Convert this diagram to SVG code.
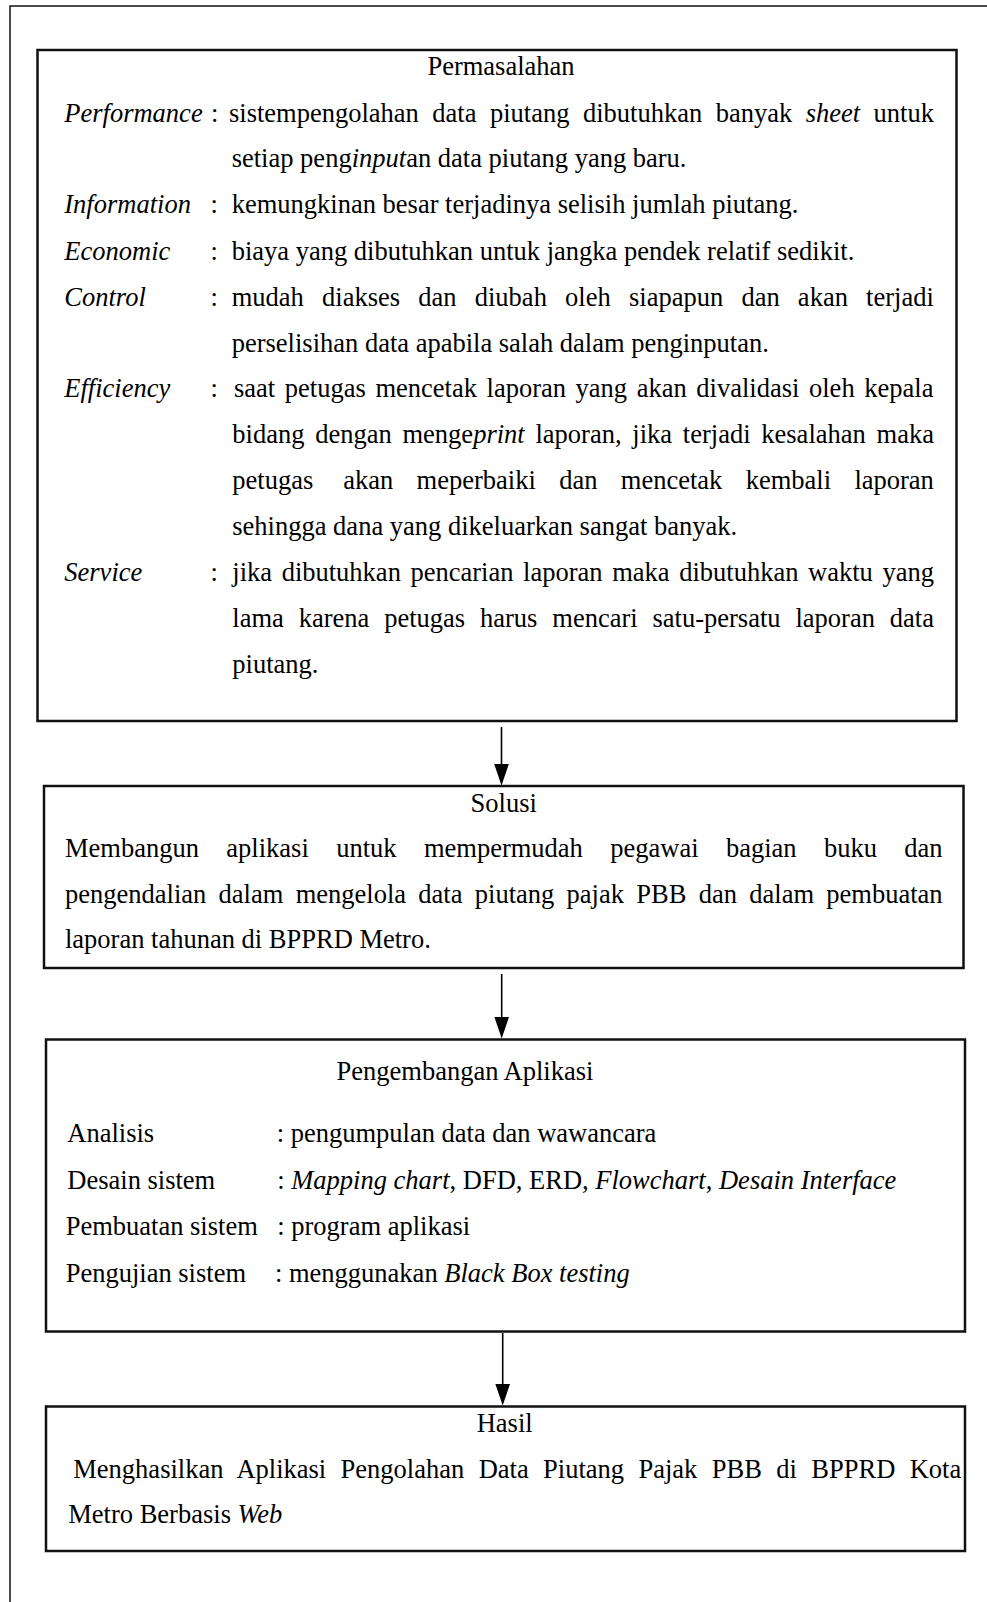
<svg xmlns="http://www.w3.org/2000/svg" width="987" height="1602" viewBox="0 0 987 1602">
<style>
text{font-family:"Liberation Serif","Times New Roman",serif;font-size:26.5px;fill:#000}
.i{font-style:italic}
.m{text-anchor:middle}
.box{fill:none;stroke:#111;stroke-width:2.5}
.frame{fill:none;stroke:#111;stroke-width:1.5}
.conn{stroke:#000;stroke-width:1.6;fill:none}
</style>
<defs>
<marker id="ah" viewBox="0 0 22 15" refX="18" refY="7.5" markerWidth="22" markerHeight="15" markerUnits="userSpaceOnUse" orient="auto">
<path d="M0,0 L22,7.5 L0,15 Z" fill="#000"/>
</marker>
</defs>
<rect width="987" height="1602" fill="#fff"/>
<path class="frame" d="M10,1602 L10,6 L987,6"/>

<g id="permasalahan">
<rect class="box" x="37.5" y="50" width="919" height="671"/>
<text class="m" x="501" y="75">Permasalahan</text>
<text class="i" x="64.3" y="121.7">Performance</text>
<text x="211" y="121.7">:</text>
<text x="229" y="121.7" style="word-spacing:6.85px">sistempengolahan data piutang dibutuhkan banyak <tspan class="i">sheet</tspan> untuk</text>
<text x="231.7" y="167.3">setiap peng<tspan class="i">input</tspan>an data piutang yang baru.</text>
<text class="i" x="64.3" y="213.3">Information</text>
<text x="210.5" y="213.3">:</text>
<text x="231.7" y="213.3">kemungkinan besar terjadinya selisih jumlah piutang.</text>
<text class="i" x="64.3" y="259.5">Economic</text>
<text x="210.5" y="259.5">:</text>
<text x="231.7" y="259.5">biaya yang dibutuhkan untuk jangka pendek relatif sedikit.</text>
<text class="i" x="64.3" y="305.5">Control</text>
<text x="210.5" y="305.5">:</text>
<text x="231.7" y="305.5" style="word-spacing:11.6px">mudah diakses dan diubah oleh siapapun dan akan terjadi</text>
<text x="231.7" y="351.5">perselisihan data apabila salah dalam penginputan.</text>
<text class="i" x="64.3" y="397.3">Efficiency</text>
<text x="210.5" y="397.3">:</text>
<text x="234" y="397.3" style="word-spacing:2.99px">saat petugas mencetak laporan yang akan divalidasi oleh kepala</text>
<text x="232.3" y="443.3" style="word-spacing:4.15px">bidang dengan menge<tspan class="i">print</tspan> laporan, jika terjadi kesalahan maka</text>
<text x="232.3" y="489" style="word-spacing:16.74px">petugas<tspan dx="6.6"> akan meperbaiki dan mencetak kembali laporan</tspan></text>
<text x="232.3" y="535">sehingga dana yang dikeluarkan sangat banyak.</text>
<text class="i" x="64.3" y="581.3">Service</text>
<text x="210.5" y="581.3">:</text>
<text x="232.3" y="581.3" style="word-spacing:2.99px">jika dibutuhkan pencarian laporan maka dibutuhkan waktu yang</text>
<text x="232.3" y="627.3" style="word-spacing:8.26px">lama karena petugas harus mencari satu-persatu laporan data</text>
<text x="232.3" y="673.3">piutang.</text>
</g>

<g id="solusi">
<rect class="box" x="44" y="786" width="919.5" height="182"/>
<text class="m" x="503.7" y="811.7">Solusi</text>
<text x="65" y="857.3" style="word-spacing:20.76px">Membangun aplikasi untuk mempermudah pegawai bagian buku dan</text>
<text x="65" y="903.3" style="word-spacing:5.69px">pengendalian dalam mengelola data piutang pajak PBB dan dalam pembuatan</text>
<text x="65" y="948.3">laporan tahunan di BPPRD Metro.</text>
</g>

<g id="pengembangan">
<rect class="box" x="46" y="1039.5" width="919" height="292"/>
<text class="m" x="465" y="1080">Pengembangan Aplikasi</text>
<text x="67.3" y="1141.7">Analisis</text>
<text x="276.7" y="1141.7">: pengumpulan data dan wawancara</text>
<text x="67.3" y="1189">Desain sistem</text>
<text x="277.3" y="1189">: <tspan class="i">Mapping chart</tspan>, DFD, ERD, <tspan class="i">Flowchart</tspan>, <tspan class="i">Desain Interface</tspan></text>
<text x="65.7" y="1235">Pembuatan sistem</text>
<text x="277.3" y="1235">: program aplikasi</text>
<text x="65.7" y="1281.7">Pengujian sistem</text>
<text x="275" y="1281.7">: menggunakan <tspan class="i">Black Box testing</tspan></text>
</g>

<g id="hasil">
<rect class="box" x="46" y="1406.5" width="919" height="144.5"/>
<text class="m" x="504.7" y="1431.7">Hasil</text>
<text x="73.3" y="1478.3" style="word-spacing:7.79px">Menghasilkan Aplikasi Pengolahan Data Piutang Pajak PBB di BPPRD Kota</text>
<text x="68.3" y="1523.3">Metro Berbasis <tspan class="i">Web</tspan></text>
</g>

<g id="connectors">
<line class="conn" x1="501.5" y1="727" x2="501.5" y2="781.5" marker-end="url(#ah)"/>
<line class="conn" x1="501.7" y1="974" x2="501.7" y2="1034.5" marker-end="url(#ah)"/>
<line class="conn" x1="502.7" y1="1333" x2="502.7" y2="1401.5" marker-end="url(#ah)"/>
</g>
</svg>
